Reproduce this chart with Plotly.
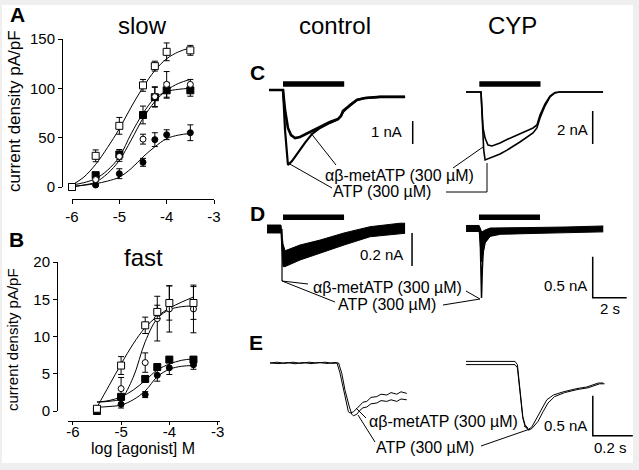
import plotly.graph_objects as go

W, H = 639, 470
FONT = "Liberation Sans, Arial, sans-serif"

# ---------------- Panel A (slow) ----------------
conc = [-6, -5.5, -5, -4.5, -4.25, -4, -3.5]
A_osq = [0, 31.6, 62, 103, 122.5, 137, 138.5]
A_osq_err = [0, 6, 8.5, 6, 5, 9, 5]
A_ocirc = [0, 7.5, 31, 48.5, 91.6, 104, 104]
A_ocirc_err = [0, 2, 5, 5, 10, 13, 5]
A_fsq = [0, 12, 33, 73, 91, 98, 98]
A_fsq_err = [0, 2, 5, 9, 10, 8, 6]
A_fcirc = [0, 2, 13.5, 25, 48, 53, 55]
A_fcirc_err = [0, 1, 5, 4, 7, 5, 8]

fitA_x = [-6, -5.75, -5.5, -5.25, -5, -4.75, -4.5, -4.25, -4, -3.75, -3.5]
fitA_osq = [2, 10, 23, 40, 59, 81, 101, 118, 130, 137, 141]
fitA_ocirc = [0, 2, 5, 13.6, 27, 47.5, 69.6, 86.5, 98, 105, 109]
fitA_fsq = [2, 4.4, 8.5, 17, 30.5, 54, 74.6, 90, 96.7, 99, 100]
fitA_fcirc = [0.7, 1.8, 3.4, 6, 10, 18.7, 30.5, 40.7, 49, 52.6, 54.3]

# ---------------- Panel B (fast) ----------------
concB = [-5.5, -5, -4.5, -4.25, -4, -3.5]
B_osq = [0.3, 6.1, 11.5, 13.3, 14.5, 14.5]
B_osq_err = [0.3, 1.2, 1.1, 0.9, 2.3, 2.2]
B_ocirc = [0.3, 3.0, 6.5, 12.4, 13.7, 13.7]
B_ocirc_err = [0.3, 1.5, 1.3, 3.0, 3.1, 3.2]
B_fsq = [0.0, 1.9, 4.3, 5.9, 6.9, 6.9]
B_fsq_err = [0.3, 0.3, 0.4, 0.3, 0.3, 0.3]
B_fcirc = [0.2, 0.9, 2.2, 4.8, 5.8, 6.2]
B_fcirc_err = [0.2, 0.5, 0.4, 0.8, 0.9, 0.6]

fitB_x = [-5.5, -5.25, -5, -4.75, -4.5, -4.25, -4, -3.75, -3.5]
fitB_osq = [0.5, 3.4, 6.3, 9.0, 11.2, 12.7, 13.8, 14.6, 15.3]
fitB_ocirc = [1.2, 1.3, 1.7, 4.5, 9.3, 12.4, 13.6, 14.0, 14.1]
fitB_fsq = [1.2, 1.4, 1.9, 2.8, 4.1, 5.5, 6.3, 6.8, 7.0]
fitB_fcirc = [0.5, 0.6, 0.8, 1.5, 2.7, 4.6, 5.6, 6.0, 6.1]

tickA_x = [-6, -5, -4, -3]
tickA_xt = ["-6", "-5", "-4", "-3"]
tickA_y = [0, 50, 100, 150]
tickB_y = [0, 5, 10, 15, 20]

# ---------------- Panel C traces (time s, current nA) ----------------
C_ctl_ab_t = [-0.82, 0, 0.12, 0.29, 0.47, 0.71, 1.00, 1.59, 2.18, 2.76, 3.24, 3.41, 3.53, 3.94, 4.35, 4.82, 5.71, 7.18]
C_ctl_ab_i = [0, 0, -0.87, -1.65, -1.96, -2.09, -2.04, -1.83, -1.61, -1.39, -1.26, -1.13, -0.91, -0.65, -0.43, -0.35, -0.30, -0.30]
C_ctl_atp_t = [-0.82, 0, 0.12, 0.29, 0.53, 0.88, 1.29, 1.71, 2.18, 2.76, 3.24, 3.41, 3.53, 3.94, 4.35, 4.82, 5.71, 7.18]
C_ctl_atp_i = [0, 0, -1.74, -3.26, -3.09, -2.70, -2.30, -1.91, -1.65, -1.43, -1.28, -1.13, -0.96, -0.65, -0.43, -0.35, -0.30, -0.30]

C_cyp_ab_t = [-0.88, 0, 0.06, 0.12, 0.24, 0.41, 0.65, 1.12, 1.53, 2.29, 3.06, 3.29, 3.47, 3.76, 4.06, 4.35, 4.65, 7.18]
C_cyp_ab_i = [0, 0, -1.09, -2.18, -2.79, -3.21, -3.27, -3.09, -2.88, -2.55, -2.18, -2.00, -1.39, -0.73, -0.24, -0.03, 0, 0]
C_cyp_atp_t = [-0.88, 0, 0.09, 0.16, 0.24, 0.53, 1.12, 1.53, 2.29, 3.06, 3.29, 3.47, 3.76, 4.06, 4.35, 4.65, 7.18]
C_cyp_atp_i = [0, 0, -2.00, -3.52, -4.12, -4.00, -3.76, -3.52, -3.03, -2.48, -2.18, -1.58, -0.85, -0.30, -0.06, 0, 0]

# ---------------- Panel D traces ----------------
D_ctl_t = [-0.88, -0.06, 0.06, 0.18, 1.06, 2.24, 3.65, 5.18, 6.94, 7.24]
D_ctl_up = [0.024, 0.024, -0.091, -0.132, -0.097, -0.067, -0.024, 0.014, 0.035, 0.035]
D_ctl_lo = [-0.024, -0.024, -0.228, -0.228, -0.188, -0.145, -0.097, -0.047, -0.026, -0.026]
D_ctl_spike_t = [0, 0.0]
D_ctl_spike_i = [0, -0.315]

D_cyp_t = [-0.82, -0.05, 0.1, 0.3, 0.6, 1.2, 3.0, 5.0, 7.25]
D_cyp_up = [0.043, 0.043, -0.037, -0.012, 0.012, 0.012, 0.018, 0.024, 0.037]
D_cyp_lo = [-0.03, -0.03, -0.40, -0.17, -0.09, -0.065, -0.055, -0.045, -0.035]
D_cyp_spike_t = [0, 0.09, 0.135, 0.19, 0.29, 0.47, 0.88]
D_cyp_spike_i = [0, -0.84, -0.50, -0.26, -0.16, -0.085, -0.049]

# ---------------- Panel E traces ----------------
E_ctl_ab_t = [-0.335, -0.3, -0.26, -0.22, -0.18, -0.14, -0.1, -0.06, -0.02, 0, 0.015, 0.032, 0.049, 0.057, 0.065, 0.082,
              0.099, 0.115, 0.13, 0.149, 0.17, 0.199, 0.22, 0.249, 0.27, 0.299, 0.32, 0.349]
E_ctl_ab_i = [0, 0.01, -0.005, 0.01, -0.005, 0.01, 0, 0.01, -0.005, 0, -0.125, -0.34, -0.55, -0.61, -0.625, -0.61,
              -0.57, -0.525, -0.49, -0.48, -0.43, -0.42, -0.39, -0.40, -0.37, -0.39, -0.36, -0.38]
E_ctl_atp_t = [-0.335, -0.29, -0.25, -0.21, -0.17, -0.13, -0.09, -0.05, -0.01, 0.008, 0.024, 0.04, 0.062, 0.074, 0.082, 0.099,
               0.115, 0.13, 0.149, 0.17, 0.199, 0.22, 0.249, 0.27, 0.299, 0.32, 0.349]
E_ctl_atp_i = [0, -0.008, 0.006, -0.01, 0.006, -0.008, 0.006, -0.006, 0.006, 0, -0.13, -0.34, -0.55, -0.64, -0.66, -0.64,
               -0.59, -0.56, -0.55, -0.51, -0.50, -0.47, -0.48, -0.46, -0.48, -0.45, -0.46]

E_cyp_t = [-0.245, 0, 0.012, 0.025, 0.039, 0.05, 0.067, 0.084, 0.109, 0.134, 0.159, 0.192, 0.242, 0.309, 0.359, 0.417, 0.442]
E_cyp_a = [0.02, 0.02, -0.02, -0.33, -0.67, -0.77, -0.83, -0.80, -0.69, -0.57, -0.46, -0.40, -0.36, -0.32, -0.30, -0.25, -0.25]
E_cyp_b = [-0.02, -0.02, -0.06, -0.35, -0.69, -0.79, -0.84, -0.82, -0.73, -0.61, -0.50, -0.42, -0.37, -0.33, -0.31, -0.26, -0.26]

# agonist application bars (s)
agonist_bar = [0, 3.6]
label_ab = "αβ-metATP (300 µM)"
label_atp = "ATP (300 µM)"

fig = go.Figure()
K = "black"


def curve(x, y, xa, ya):
    fig.add_trace(go.Scatter(x=x, y=y, mode="lines", xaxis=xa, yaxis=ya, line=dict(color=K, width=1, shape="spline", smoothing=1),
                             hoverinfo="skip", showlegend=False))


def pts(x, y, e, sym, fill, size, xa, ya):
    fig.add_trace(go.Scatter(x=x, y=y, mode="markers", xaxis=xa, yaxis=ya, cliponaxis=False,
                             error_y=dict(type="data", array=e, color=K, thickness=1, width=3),
                             marker=dict(symbol=sym, size=size, color=fill, line=dict(color=K, width=1)),
                             showlegend=False))


def line(x, y, xa, ya, w=1, color=K):
    fig.add_trace(go.Scatter(x=x, y=y, mode="lines", xaxis=xa, yaxis=ya, cliponaxis=False,
                             line=dict(color=color, width=w), showlegend=False, hoverinfo="skip"))


def band(t, up, lo, xa, ya):
    fig.add_trace(go.Scatter(x=t, y=up, mode="lines", xaxis=xa, yaxis=ya, line=dict(color=K, width=1), showlegend=False))
    fig.add_trace(go.Scatter(x=t, y=lo, mode="lines", xaxis=xa, yaxis=ya, line=dict(color=K, width=1), fill="tonexty",
                             fillcolor=K, showlegend=False))


# Panel A
for fy_ in (fitA_osq, fitA_ocirc, fitA_fsq, fitA_fcirc):
    curve(fitA_x, fy_, "x", "y")
pts(conc, A_fcirc, A_fcirc_err, "circle", K, 6, "x", "y")
pts(conc, A_fsq, A_fsq_err, "square", K, 7, "x", "y")
pts(conc, A_ocirc, A_ocirc_err, "circle", "white", 6, "x", "y")
pts(conc, A_osq, A_osq_err, "square", "white", 7, "x", "y")

# Panel B
for fy_ in (fitB_osq, fitB_ocirc, fitB_fsq, fitB_fcirc):
    curve(fitB_x, fy_, "x2", "y2")
pts(concB, B_fcirc, B_fcirc_err, "circle", K, 6, "x2", "y2")
pts(concB, B_fsq, B_fsq_err, "square", K, 7, "x2", "y2")
pts(concB, B_ocirc, B_ocirc_err, "circle", "white", 6, "x2", "y2")
pts(concB, B_osq, B_osq_err, "square", "white", 7, "x2", "y2")

# Panel C
line(C_ctl_ab_t, C_ctl_ab_i, "x3", "y3", 2.6)
line(C_ctl_atp_t, C_ctl_atp_i, "x3", "y3", 2.2)
line(agonist_bar, [0.26, 0.26], "x3", "y3", 5.5)
line([7.63, 7.63], [-1.35, -2.35], "x3", "y3", 1.5)
line(C_cyp_ab_t, C_cyp_ab_i, "x4", "y4", 1.6)
line(C_cyp_atp_t, C_cyp_atp_i, "x4", "y4", 1.6)
line([-0.1, 3.5], [0.485, 0.485], "x4", "y4", 5.5)
line([6.57, 6.57], [-1.15, -3.15], "x4", "y4", 1.5)

# Panel D
band(D_ctl_t, D_ctl_up, D_ctl_lo, "x5", "y5")
line(D_ctl_spike_t, D_ctl_spike_i, "x5", "y5", 1.2)
line([0.06, 3.65], [0.071, 0.071], "x5", "y5", 5.5)
line([7.65, 7.65], [-0.024, -0.224], "x5", "y5", 1.5)
band(D_cyp_t, D_cyp_up, D_cyp_lo, "x6", "y6")
line(D_cyp_spike_t, D_cyp_spike_i, "x6", "y6", 1.5)
line([-0.06, 3.53], [0.143, 0.143], "x6", "y6", 5.5)
line([8.63, 6.63, 6.63], [-0.838, -0.838, -0.338], "x6", "y6", 1.5)

# Panel E
line(E_ctl_ab_t, E_ctl_ab_i, "x7", "y7", 1)
line(E_ctl_atp_t, E_ctl_atp_i, "x7", "y7", 1)
line(E_cyp_t, E_cyp_a, "x8", "y8", 1)
line([t + (0.006 if t > 0.1 else 0) for t in E_cyp_t], E_cyp_b, "x8", "y8", 1)
line([0.589, 0.389, 0.389], [-0.91, -0.91, -0.41], "x8", "y8", 1.5)

layout = dict(width=W, height=H, margin=dict(l=0, r=0, t=0, b=0, autoexpand=False), paper_bgcolor="#efefef",
              plot_bgcolor="rgba(0,0,0,0)", font=dict(family=FONT, color=K), showlegend=False)

axA = dict(showgrid=False, zeroline=False, showline=True, linecolor=K, linewidth=1, ticks="outside", ticklen=4,
           tickcolor=K, tickfont=dict(size=15, family=FONT, color=K), automargin=False)
layout["xaxis"] = dict(axA, domain=[72 / W, 214 / W], range=[-6, -3], anchor="free", position=1 - 199 / H,
                       tickvals=tickA_x, ticktext=tickA_xt)
layout["yaxis"] = dict(axA, domain=[1 - 187 / H, 1 - 39 / H], range=[0, 150], anchor="free", position=62 / W,
                       tickvals=tickA_y)
layout["xaxis2"] = dict(axA, domain=[68 / W, 220 / W], range=[-6.1, -2.95], anchor="free", position=1 - 421 / H,
                        tickvals=tickA_x, ticktext=tickA_xt, ticklen=3, ticklabelstandoff=-6)
layout["yaxis2"] = dict(axA, domain=[1 - 411 / H, 1 - 262 / H], range=[0, 20], anchor="free", position=57 / W,
                        tickvals=tickB_y)


def panel(n, L, R, T, B, x0, y0, sx, sy):
    layout[f"xaxis{n}"] = dict(domain=[L / W, R / W], range=[(L - x0) / sx, (R - x0) / sx], visible=False,
                               anchor=f"y{n}", automargin=False)
    layout[f"yaxis{n}"] = dict(domain=[1 - B / H, 1 - T / H], range=[(y0 - B) / sy, (y0 - T) / sy], visible=False,
                               anchor=f"x{n}", automargin=False)


panel(3, 262, 430, 60, 178, 283, 90, 17, 23)
panel(4, 455, 632, 60, 178, 481, 92, 17, 16.5)
panel(5, 262, 430, 200, 300, 282, 229, 17, 165)
panel(6, 455, 632, 200, 318, 480, 229, 17, 82)
panel(7, 262, 430, 335, 440, 337, 363, 200, 80)
panel(8, 455, 635, 335, 455, 515, 363, 200, 80)

fig.update_layout(**layout)

ann = []


def txt(s, x, y, size=15, xa="center", bold=False, angle=0):
    ann.append(dict(text=f"<b>{s}</b>" if bold else s, x=x / W, y=1 - y / H, xref="paper", yref="paper",
                    xanchor=xa, yanchor="middle", showarrow=False, textangle=angle,
                    font=dict(size=size, family=FONT, color=K)))


txt("A", 17, 15, 21, bold=True)
txt("B", 16, 240, 21, bold=True)
txt("C", 257, 72, 21, bold=True)
txt("D", 257, 213, 21, bold=True)
txt("E", 256, 342, 21, bold=True)
txt("slow", 142, 26, 24)
txt("fast", 143, 257, 24)
txt("control", 335, 26, 24)
txt("CYP", 512, 26, 24)
txt("current density pA/pF", 14, 111, 17, angle=-90)
txt("current density pA/pF", 12, 340, 15, angle=-90)
txt("log [agonist] M", 143, 448, 16)
txt("1 nA", 404, 132, 15, xa="right")
txt("2 nA", 590, 129, 15, xa="right")
txt("0.2 nA", 405, 255, 15, xa="right")
txt("0.5 nA", 589, 285, 15, xa="right")
txt("2 s", 610, 308, 15)
txt("0.5 nA", 589, 425, 15, xa="right")
txt("0.2 s", 610, 447, 15)
txt(label_ab, 323, 175, 16, xa="left")
txt(label_atp, 331, 192, 16, xa="left")
txt(label_ab, 311, 287, 16, xa="left")
txt(label_atp, 336, 304, 16, xa="left")
txt(label_ab, 367, 421, 16, xa="left")
txt(label_atp, 374, 447, 16, xa="left")

shapes = [dict(type="rect", xref="paper", yref="paper", x0=2 / W, x1=633 / W, y0=1 - 463 / H, y1=1 - 5 / H,
               fillcolor="white", line=dict(width=0), layer="below")]
leaders = [((310, 132), (336, 165)), ((288, 163), (332, 188)), ((453, 168), (483, 147)), ((446, 192), (487, 192)),
           ((487, 192), (487, 163)),
           ((282, 281), (308, 284)), ((282, 281), (335, 302)), ((466, 291), (480, 299)), ((443, 305), (480, 299)),
           ((356, 408), (366, 418)), ((358, 415), (375, 442)), ((524, 426), (528, 428)), ((481, 446), (530, 429))]
for (a, b) in leaders:
    shapes.append(dict(type="line", xref="paper", yref="paper", x0=a[0] / W, y0=1 - a[1] / H, x1=b[0] / W,
                       y1=1 - b[1] / H, line=dict(color=K, width=1)))

fig.update_layout(annotations=ann, shapes=shapes)
fig.write_html("out.html", config={"displayModeBar": False},
               post_script="document.body.style.margin='0px';document.body.style.padding='0px';")
